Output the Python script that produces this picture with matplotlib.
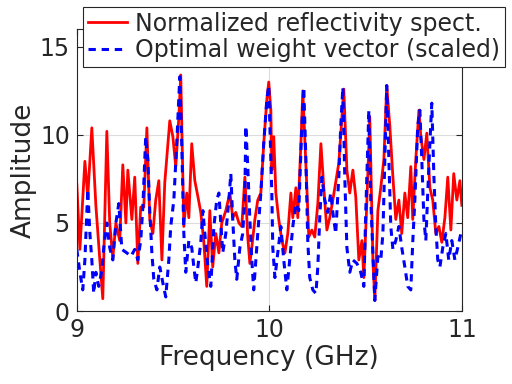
import matplotlib
matplotlib.use('Agg')
import matplotlib.pyplot as plt

# normalized reflectivity spectrum (red)
freq_r = [9.000, 9.016, 9.042, 9.057, 9.078, 9.099, 9.119, 9.135, 9.156, 9.171,
          9.187, 9.203, 9.223, 9.239, 9.255, 9.265, 9.286, 9.301, 9.317, 9.332,
          9.348, 9.364, 9.379, 9.395, 9.410, 9.426, 9.442, 9.457, 9.483, 9.499,
          9.514, 9.530, 9.540, 9.556, 9.571, 9.582, 9.597, 9.613, 9.629, 9.644,
          9.660, 9.675, 9.691, 9.706, 9.722, 9.738, 9.753, 9.774, 9.795, 9.810,
          9.826, 9.842, 9.857, 9.873, 9.888, 9.899, 9.909, 9.925, 9.940, 9.956,
          9.971, 9.987, 9.997, 10.008, 10.013, 10.023, 10.034, 10.049, 10.065, 10.081,
          10.096, 10.112, 10.122, 10.138, 10.148, 10.164, 10.174, 10.195, 10.205, 10.221,
          10.236, 10.252, 10.268, 10.283, 10.299, 10.314, 10.330, 10.345, 10.361, 10.377,
          10.387, 10.403, 10.418, 10.434, 10.449, 10.465, 10.481, 10.491, 10.506, 10.522,
          10.538, 10.548, 10.564, 10.579, 10.595, 10.610, 10.626, 10.642, 10.657, 10.673,
          10.688, 10.704, 10.719, 10.735, 10.745, 10.761, 10.777, 10.787, 10.803, 10.818,
          10.834, 10.849, 10.865, 10.881, 10.896, 10.912, 10.927, 10.943, 10.958, 10.974,
          10.990, 11.000]
refl = [7.2, 3.5, 8.5, 6.5, 10.4, 6.0, 3.0, 0.7, 10.2, 5.0,
        3.0, 5.0, 4.0, 8.3, 5.0, 8.0, 5.2, 7.6, 2.7, 5.9,
        5.9, 10.4, 5.2, 4.4, 6.3, 7.4, 2.9, 7.3, 10.8, 9.9,
        8.2, 11.0, 13.4, 4.8, 6.7, 5.3, 9.5, 7.4, 6.5, 5.6,
        3.9, 1.4, 5.7, 2.5, 4.4, 3.3, 5.0, 5.7, 6.7, 5.3,
        5.6, 5.0, 4.8, 7.6, 4.2, 2.7, 3.6, 5.2, 6.3, 6.7,
        9.5, 12.0, 13.0, 11.4, 8.0, 9.9, 6.7, 5.2, 4.0, 3.3,
        4.4, 6.7, 5.3, 7.0, 5.3, 9.5, 12.5, 7.0, 4.2, 4.6,
        4.2, 6.1, 9.5, 7.0, 4.6, 5.3, 6.3, 7.3, 8.4, 11.0,
        12.6, 8.0, 6.7, 8.0, 6.5, 2.9, 4.0, 1.9, 6.0, 11.0,
        2.9, 0.6, 5.7, 7.0, 8.6, 12.8, 10.5, 7.6, 5.2, 6.3,
        4.4, 6.7, 5.3, 8.2, 5.2, 8.6, 11.4, 9.9, 8.6, 10.1,
        7.0, 6.3, 4.4, 4.8, 3.9, 5.3, 7.6, 4.6, 7.8, 6.3,
        7.4, 6.0]

# optimal weight vector, scaled (blue dashed)
freq_w = [9.000, 9.016, 9.031, 9.042, 9.057, 9.068, 9.078, 9.088, 9.099, 9.114,
          9.130, 9.140, 9.156, 9.171, 9.187, 9.203, 9.218, 9.234, 9.260, 9.281,
          9.301, 9.317, 9.332, 9.343, 9.353, 9.358, 9.369, 9.379, 9.390, 9.400,
          9.416, 9.431, 9.447, 9.462, 9.478, 9.488, 9.504, 9.519, 9.535, 9.545,
          9.556, 9.566, 9.582, 9.597, 9.608, 9.618, 9.629, 9.644, 9.655, 9.665,
          9.681, 9.696, 9.712, 9.727, 9.738, 9.748, 9.758, 9.774, 9.790, 9.800,
          9.810, 9.821, 9.831, 9.847, 9.862, 9.873, 9.878, 9.888, 9.899, 9.909,
          9.919, 9.930, 9.940, 9.956, 9.971, 9.987, 9.997, 10.003, 10.013, 10.018,
          10.029, 10.044, 10.060, 10.075, 10.091, 10.106, 10.122, 10.138, 10.153, 10.169,
          10.179, 10.190, 10.200, 10.210, 10.226, 10.242, 10.252, 10.262, 10.273, 10.288,
          10.304, 10.319, 10.330, 10.345, 10.361, 10.371, 10.382, 10.392, 10.403, 10.418,
          10.434, 10.455, 10.475, 10.491, 10.501, 10.517, 10.527, 10.538, 10.548, 10.564,
          10.579, 10.590, 10.600, 10.610, 10.621, 10.631, 10.642, 10.657, 10.673, 10.688,
          10.704, 10.719, 10.735, 10.745, 10.756, 10.771, 10.782, 10.792, 10.803, 10.813,
          10.823, 10.834, 10.844, 10.855, 10.865, 10.875, 10.886, 10.901, 10.917, 10.932,
          10.948, 10.964, 10.979, 10.995]
weight = [3.5, 2.2, 1.2, 2.9, 6.9, 4.4, 2.9, 1.0, 2.2, 1.4,
          2.3, 3.6, 5.0, 3.6, 2.9, 5.0, 6.1, 3.5, 3.3, 3.1,
          3.5, 2.9, 4.0, 5.9, 8.6, 9.9, 8.6, 5.7, 3.3, 1.8,
          1.2, 2.5, 1.6, 0.8, 2.9, 4.8, 6.3, 9.5, 13.3, 9.5,
          4.4, 2.2, 4.0, 3.6, 2.5, 1.6, 2.5, 3.9, 5.7, 4.4,
          2.5, 1.4, 4.8, 6.3, 6.7, 5.0, 3.3, 4.4, 6.3, 7.8,
          5.2, 2.9, 1.8, 3.6, 4.4, 6.7, 10.5, 8.2, 5.2, 2.9,
          1.2, 2.9, 4.4, 6.7, 9.5, 12.0, 12.8, 10.5, 6.7, 3.6,
          1.9, 3.3, 4.8, 2.9, 1.2, 2.9, 4.8, 6.1, 5.7, 10.5,
          12.7, 8.6, 3.9, 1.9, 1.2, 1.0, 2.5, 5.3, 7.6, 6.3,
          5.6, 6.7, 5.6, 4.4, 7.6, 10.5, 12.7, 7.6, 3.6, 2.2,
          2.9, 2.7, 2.2, 1.4, 5.6, 11.4, 6.3, 3.3, 0.6, 3.1,
          2.9, 4.4, 8.6, 12.8, 8.6, 4.8, 3.5, 4.0, 4.8, 3.6,
          2.5, 1.4, 1.2, 3.9, 6.3, 10.5, 11.4, 8.6, 5.2, 4.0,
          6.7, 9.5, 11.8, 7.6, 4.8, 2.9, 2.5, 3.6, 4.4, 2.9,
          4.0, 2.9, 3.6, 4.4]

txt = '#262626'
plt.rcParams['font.family'] = 'DejaVu Sans'

fig = plt.figure(figsize=(5.12, 3.84), dpi=100)
ax = fig.add_axes([0.150, 0.190, 0.752, 0.734])

ax.plot(freq_r, refl, color='#ff0000', linewidth=2.0, label='Normalized reflectivity spect.')
ax.plot(freq_w, weight, color='#0000ff', linewidth=2.2, linestyle=(0, (2.4, 1.9)),
        label='Optimal weight vector (scaled)')

ax.set_xlim(9, 11)
ax.set_ylim(0, 16)
ax.set_xticks([9, 10, 11])
ax.set_yticks([0, 5, 10, 15])
ax.grid(True, color='#dcdcdc', linewidth=0.8)
ax.set_axisbelow(True)
ax.tick_params(direction='in', top=True, right=True, length=4, width=0.8,
               labelsize=17, colors=txt, pad=5)
for s in ax.spines.values():
    s.set_color(txt)
    s.set_linewidth(0.8)

ax.set_xlabel('Frequency (GHz)', fontsize=19, color=txt, labelpad=2)
ax.set_ylabel('Amplitude', fontsize=19, color=txt, labelpad=2)

leg = ax.legend(loc='upper right', bbox_to_anchor=(0.986, 0.982), bbox_transform=fig.transFigure,
                fontsize=17, handlelength=1.65, handletextpad=0.35, labelspacing=0.1,
                borderpad=0.2, borderaxespad=0, fancybox=False, framealpha=1,
                edgecolor=txt)
leg.get_frame().set_linewidth(0.8)
for t in leg.get_texts():
    t.set_color(txt)

fig.savefig('out.png', dpi=100)
